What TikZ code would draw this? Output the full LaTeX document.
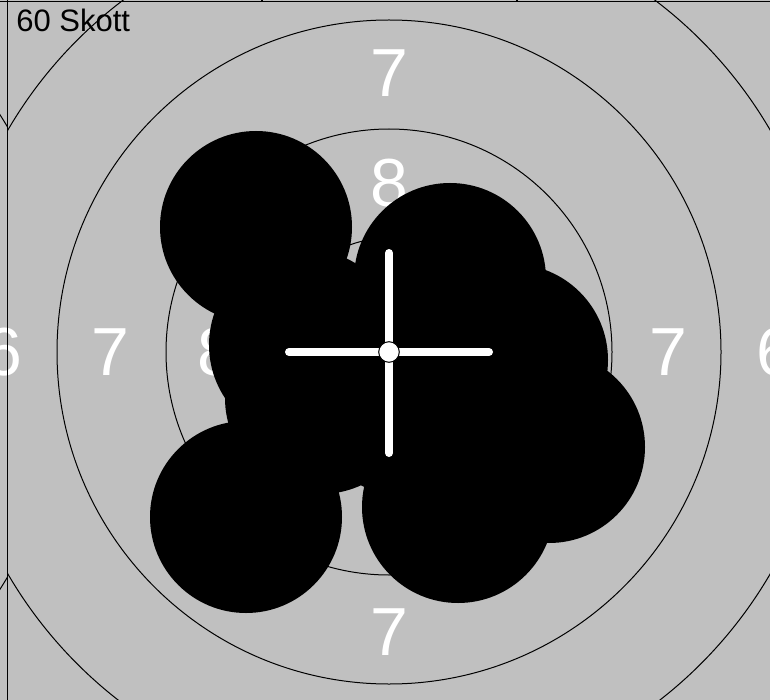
\documentclass[tikz,border=0pt]{standalone}
\usepackage{fontspec}
\setmainfont{Liberation Sans}

\definecolor{targetgray}{HTML}{C0C0C0}

\tikzset{
    ring/.style={draw=black, line width=0.5pt},
    ringnum/.style={text=white, font=\fontsize{34}{34}\selectfont, inner sep=0pt},
    shot/.style={fill=black},
    crossbar/.style={draw=white, line width=4pt, line cap=round},
}

\begin{document}
\begin{tikzpicture}[x=0.5pt, y=-0.5pt]
    \useasboundingbox (0,0) rectangle (770,700);
    \clip (0,0) rectangle (770,700);
    \fill[targetgray] (0,0) rectangle (770,700);

    % neighbour target, left of the frame line
    \begin{scope}
        \clip (0,0) rectangle (7.5,700);
        \draw[ring] (-373,352) circle [radius=442];
    \end{scope}

    % rings
    \coordinate (aim) at (389,352);
    \begin{scope}
        \clip (7.5,0) rectangle (770,700);
        \foreach \r in {114,223,332,441}
            \draw[ring] (aim) circle [radius=\r];
    \end{scope}

    % ring values
    \node[ringnum] (top7) at (389,73) {7};
    \node[ringnum] (top8) at (389,183) {8};
    \node[ringnum] (bot7) at (389,632) {7};
    \node[ringnum] (left6) at (3,352) {6};
    \node[ringnum] (left7) at (110,352) {7};
    \node[ringnum] (left8) at (216,352) {8};
    \node[ringnum] (right8) at (558,352) {8};
    \node[ringnum] (right7) at (668,352) {7};
    \node[ringnum] (right6) at (775,352) {6};

    % shots
    \foreach \x/\y in {256/227, 450/279, 512/360, 549/447, 458/507, 246/517, 305/345, 321/398, 405/400}
        \fill[shot] (\x,\y) circle [radius=96];

    % crosshair
    \coordinate (aimL) at (289,352);
    \coordinate (aimR) at (489,352);
    \coordinate (aimT) at (389,253);
    \coordinate (aimB) at (389,453);
    \draw[crossbar] (aimL) -- (aimR);
    \draw[crossbar] (aimT) -- (aimB);
    \draw[fill=white, line width=0.5pt] (aim) circle [radius=10.3];

    % frame
    \draw[line width=0.7pt] (7.5,0) -- (7.5,700);
    \draw[line width=0.7pt] (0,1.5) -- (770,1.5);
    \draw[line width=0.7pt] (262,0) -- (262,1.5);
    \draw[line width=0.7pt] (517,0) -- (517,1.5);

    \node[anchor=base west, inner sep=0pt, font=\fontsize{15.5}{15.5}\selectfont] (title) at (16,32) {60 Skott};
\end{tikzpicture}
\end{document}
